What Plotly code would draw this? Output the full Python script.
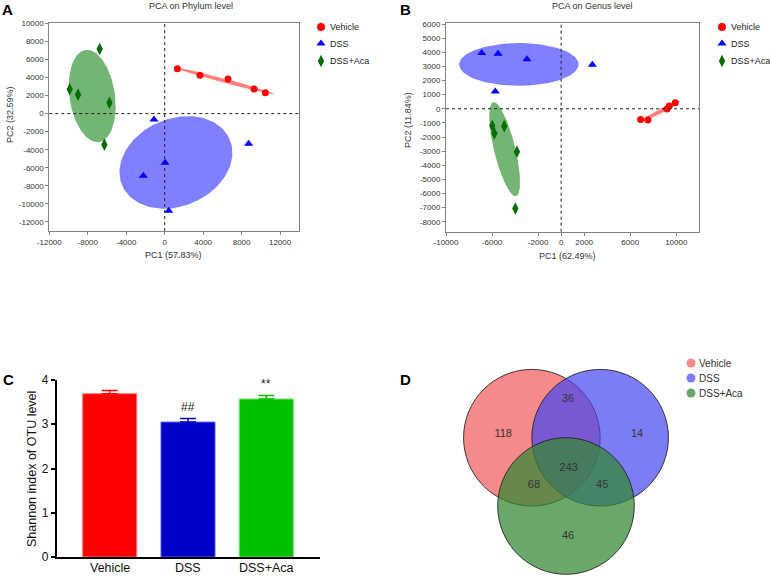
import numpy as np
import plotly.graph_objects as go

FONT = "Liberation Sans, Arial, Helvetica, sans-serif"
W, H = 770, 576

groups = ["Vehicle", "DSS", "DSS+Aca"]

# ---- Panel A: PCA on phylum level (PC1, PC2 scores per sample) ----
phy_vehicle_pc1 = [1320, 3670, 6590, 9290, 10470]
phy_vehicle_pc2 = [4980, 4240, 3830, 2730, 2320]
phy_dss_pc1 = [-1110, 8730, 40, -2220, 420]
phy_dss_pc2 = [-650, -3330, -5430, -6870, -10750]
phy_aca_pc1 = [-6760, -9880, -9010, -5750, -6270]
phy_aca_pc2 = [7160, 2690, 2100, 1210, -3440]

# ---- Panel B: PCA on genus level ----
gen_vehicle_pc1 = [6900, 7540, 9190, 9390, 9910]
gen_vehicle_pc2 = [-750, -800, -20, 190, 430]
gen_dss_pc1 = [-6900, -5480, -2970, 2710, -5720]
gen_dss_pc2 = [3950, 3900, 3500, 3120, 1230]
gen_aca_pc1 = [-5980, -5800, -4940, -3840, -3980]
gen_aca_pc2 = [-1200, -1740, -1230, -3040, -7060]

phy_xticks = [-12000, -8000, -4000, 0, 4000, 8000, 12000]
phy_yticks = list(range(-12000, 10001, 2000))
gen_xticks = [-10000, -6000, -2000, 0, 2000, 6000, 10000]
gen_yticks = list(range(-8000, 6001, 1000))

# ---- Panel C: Shannon index ----
shannon_mean = [3.69, 3.05, 3.57]
shannon_sem = [0.07, 0.08, 0.08]
shannon_marks = ["", "##", "**"]

# ---- Panel D: Venn counts ----
venn_regions = ["Vehicle", "Vehicle&DSS", "DSS", "Vehicle&DSS+Aca", "All", "DSS&DSS+Aca", "DSS+Aca"]
venn_counts = [118, 36, 14, 68, 243, 45, 46]

# ---------------- styles ----------------
pt_colors = ["#FF0000", "#0000FF", "#006E00"]
ell_colors = ["rgba(255,0,0,0.5)", "rgba(0,0,255,0.5)", "rgba(0,120,0,0.55)"]
symbols = ["circle", "triangle-up", "diamond-tall"]
sizes = [7, 8, 9]
bar_colors = ["#FF0000", "#0000C8", "#00C000"]
bar_edges = ["#FF7070", "#6060FF", "#70E070"]
venn_fill = ["rgba(238,20,20,0.5)", "rgba(69,69,241,0.7)", "rgba(51,136,51,0.73)"]
venn_legend_col = ["#F48A8A", "#7D7DF5", "#6AA86A"]


def conf_ellipse(x, y, k=1.35, n=140):
    x = np.asarray(x, float)
    y = np.asarray(y, float)
    vals, vecs = np.linalg.eigh(np.cov(x, y))
    t = np.linspace(0, 2 * np.pi, n)
    circ = np.vstack([np.cos(t), np.sin(t)]) * (k * np.sqrt(np.clip(vals, 0, None)))[:, None]
    pts = vecs @ circ
    return x.mean() + pts[0], y.mean() + pts[1]


def px(v):
    return v / W


def py(v):
    return 1 - v / H


fig = go.Figure()

# PCA panels
pca_sets = [
    ("x", "y", [(phy_vehicle_pc1, phy_vehicle_pc2), (phy_dss_pc1, phy_dss_pc2), (phy_aca_pc1, phy_aca_pc2)]),
    ("x2", "y2", [(gen_vehicle_pc1, gen_vehicle_pc2), (gen_dss_pc1, gen_dss_pc2), (gen_aca_pc1, gen_aca_pc2)]),
]
for xa, ya, sets in pca_sets:
    for i, (sx, sy) in enumerate(sets):
        ex, ey = conf_ellipse(sx, sy)
        fig.add_trace(go.Scatter(x=ex, y=ey, mode="lines", fill="toself", fillcolor=ell_colors[i],
                                 line=dict(width=0), xaxis=xa, yaxis=ya, showlegend=False, hoverinfo="skip"))
    for i, (sx, sy) in enumerate(sets):
        fig.add_trace(go.Scatter(x=sx, y=sy, mode="markers", name=groups[i], xaxis=xa, yaxis=ya,
                                 marker=dict(symbol=symbols[i], size=sizes[i], color=pt_colors[i]),
                                 showlegend=False, cliponaxis=False))

# Bar panel
for i, g in enumerate(groups):
    fig.add_trace(go.Bar(x=[i], y=[shannon_mean[i]], width=0.69, xaxis="x3", yaxis="y3",
                         marker=dict(color=bar_colors[i], line=dict(color=bar_edges[i], width=1)),
                         error_y=dict(type="data", symmetric=False, array=[shannon_sem[i]], arrayminus=[0],
                                      color=bar_colors[i], thickness=1.5, width=8),
                         showlegend=False))

# Venn panel (unit circles, axis scaled so 1 unit = R px)
VCX, VCY, R = 566.0, 437.7, 68.3
centers = [(-0.5, 0.0), (0.5, 0.0), (0.0, -1.0)]
label_pos_x = [-0.92, 0.03, 1.04, -0.47, 0.04, 0.53, 0.03]
label_pos_y = [0.05, 0.57, 0.05, -0.69, -0.44, -0.69, -1.44]
fig.add_trace(go.Scatter(x=label_pos_x, y=label_pos_y, mode="text", text=[str(c) for c in venn_counts],
                         textfont=dict(family=FONT, size=11, color="#333333"), xaxis="x4", yaxis="y4",
                         showlegend=False, hoverinfo="skip"))

shapes = []
for i, (cx, cy) in enumerate(centers):
    shapes.append(dict(type="circle", xref="x4", yref="y4", x0=cx - 1, x1=cx + 1, y0=cy - 1, y1=cy + 1,
                       fillcolor=venn_fill[i], line=dict(color="rgba(30,30,30,0.85)", width=1), layer="below"))

# dotted zero lines in PCA panels
for xa, ya in [("x", "y"), ("x2", "y2")]:
    shapes.append(dict(type="line", xref=xa, yref=ya + " domain", x0=0, x1=0, y0=0, y1=1,
                       line=dict(color="#222", width=1, dash="dot")))
    shapes.append(dict(type="line", xref=xa + " domain", yref=ya, x0=0, x1=1, y0=0, y1=0,
                       line=dict(color="#222", width=1, dash="dot")))

# manual legends on a pixel canvas axis (x5/y5)
leg_specs = [
    (321, 328, [27, 43.5, 61], symbols, [8, 8, 9], pt_colors, 9, "#222"),
    (722, 729, [27, 43.5, 61], symbols, [8, 8, 9], pt_colors, 9, "#222"),
    (691, 697, [363, 378, 393], ["circle"] * 3, [9, 9, 9], venn_legend_col, 10, "#333"),
]
annotations = []
for mx, tx, ys, syms, szs, cols, fs, tc in leg_specs:
    for j in range(3):
        fig.add_trace(go.Scatter(x=[mx], y=[ys[j]], mode="markers", xaxis="x5", yaxis="y5",
                                 marker=dict(symbol=syms[j], size=szs[j], color=cols[j]),
                                 showlegend=False, hoverinfo="skip", cliponaxis=False))
        annotations.append(dict(x=px(tx), y=py(ys[j]), xref="paper", yref="paper", text=groups[j],
                                showarrow=False, xanchor="left", yanchor="middle",
                                font=dict(family=FONT, size=fs, color=tc)))

# significance marks
for i, m in enumerate(shannon_marks):
    if m:
        annotations.append(dict(x=i, y=shannon_mean[i] + shannon_sem[i] + 0.25, xref="x3", yref="y3", text=m,
                                showarrow=False, font=dict(family=FONT, size=12, color="#222")))

# category labels of panel C
for i, g in enumerate(groups):
    annotations.append(dict(x=i, y=py(568), xref="x3", yref="paper", text=g, showarrow=False,
                            xanchor="center", yanchor="middle", font=dict(family=FONT, size=12.5, color="#111")))


def txt(x, y, s, size=9, bold=False, angle=0, color="#333"):
    annotations.append(dict(x=px(x), y=py(y), xref="paper", yref="paper",
                            text=("<b>%s</b>" % s) if bold else s, showarrow=False, textangle=angle,
                            xanchor="center", yanchor="middle", font=dict(family=FONT, size=size, color=color)))


txt(7, 9, "A", 15, True, color="#000")
txt(405, 9, "B", 15, True, color="#000")
txt(8, 379, "C", 15, True, color="#000")
txt(405, 379, "D", 15, True, color="#000")
txt(191, 6, "PCA on Phylum level", 9)
txt(592, 6, "PCA on Genus level", 9)
txt(173, 255.5, "PC1 (57.83%)", 9)
txt(567, 256, "PC1 (62.49%)", 9)
txt(10, 115, "PC2 (32.59%)", 9, angle=-90)
txt(408, 120, "PC2 (11.84%)", 9, angle=-90)
txt(32, 469, "Shannon index of OTU level", 12.5, angle=-90, color="#111")

pca_axis = dict(showgrid=False, zeroline=False, showline=True, linecolor="#808080", linewidth=1,
                mirror=True, ticks="outside", ticklen=3, tickcolor="#808080", automargin=False,
                tickfont=dict(family=FONT, size=8, color="#333"))

fig.update_layout(
    width=W, height=H, margin=dict(l=0, r=0, t=0, b=0, pad=0, autoexpand=False),
    paper_bgcolor="white", plot_bgcolor="rgba(0,0,0,0)", barmode="overlay",
    showlegend=False, shapes=shapes, annotations=annotations,
    xaxis=dict(domain=[px(49.3), px(299.3)], range=[-12000, 14000], tickvals=phy_xticks,
               ticktext=[str(v) for v in phy_xticks], anchor="y", **pca_axis),
    yaxis=dict(domain=[py(231), py(23.3)], range=[-13000, 10000], tickvals=phy_yticks,
               ticktext=[str(v) for v in phy_yticks], anchor="x", **pca_axis),
    xaxis2=dict(domain=[px(446), px(699.3)], range=[-10000, 12000], tickvals=gen_xticks,
                ticktext=[str(v) for v in gen_xticks], anchor="y2", **pca_axis),
    yaxis2=dict(domain=[py(231.7), py(23.3)], range=[-8700, 6050], tickvals=gen_yticks,
                ticktext=[str(v) for v in gen_yticks], anchor="x2", **pca_axis),
    xaxis3=dict(domain=[px(56.7), px(320)], range=[-0.677, 2.686], tickvals=[0, 1, 2],
                showticklabels=False, automargin=False,
                showgrid=False, zeroline=False, showline=True, linecolor="#000", linewidth=1.5, ticks="",
                anchor="y3"),
    yaxis3=dict(domain=[py(557), py(380)], range=[0, 4], tickvals=[0, 1, 2, 3, 4], showgrid=False,
                zeroline=False, showline=True, linecolor="#000", linewidth=1.5, ticks="outside", ticklen=4,
                tickwidth=1.5, tickcolor="#000", tickfont=dict(family=FONT, size=12, color="#111"),
                automargin=False, anchor="x3"),
    xaxis4=dict(domain=[0.5, 1.0], range=[(385 - VCX) / R, (770 - VCX) / R], visible=False, anchor="y4",
                automargin=False),
    yaxis4=dict(domain=[0.0, py(290)], range=[(VCY - 576) / R, (VCY - 290) / R], visible=False, anchor="x4",
                automargin=False),
    xaxis5=dict(domain=[0, 1], range=[0, W], visible=False, anchor="y5", automargin=False),
    yaxis5=dict(domain=[0, 1], range=[H, 0], visible=False, anchor="x5", automargin=False),
)

fig.write_html("out.html", config={"displayModeBar": False},
               post_script="document.body.style.margin='0';document.body.style.overflow='hidden';")
